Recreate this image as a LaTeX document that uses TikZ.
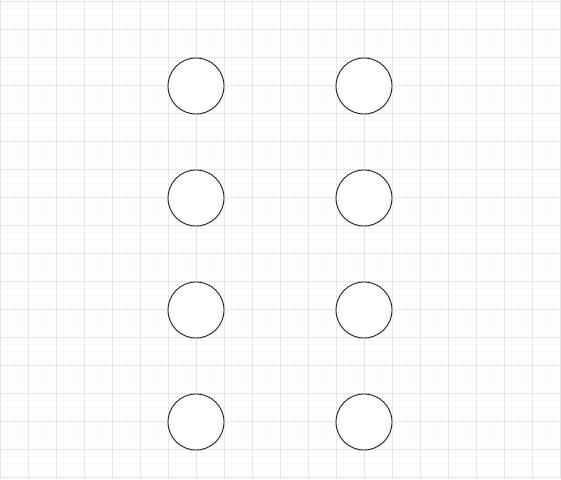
\documentclass[tikz,border=0pt]{standalone}
\usepackage{tikz}
\definecolor{ink}{HTML}{1A1A1A}
\definecolor{gridmaj}{HTML}{E6E6E6}
\definecolor{gridmin}{HTML}{F8F8F8}
\tikzset{
  pin/.style={circle,draw=ink,line width=0.9pt,fill=white,minimum size=56pt,inner sep=0pt},
}
\begin{document}
\begin{tikzpicture}[x=1pt,y=-1pt]
  \useasboundingbox (0,0) rectangle (561,479);
  \fill[white] (0,0) rectangle (561,479);
  \foreach \gx in {7,14,...,560} \draw[gridmin,line width=0.5pt] (\gx,0) -- (\gx,479);
  \foreach \gy in {8,15,...,479} \draw[gridmin,line width=0.5pt] (0,\gy) -- (561,\gy);
  \foreach \gx in {0,28,...,560} \draw[gridmaj,line width=0.8pt] (\gx,0) -- (\gx,479);
  \foreach \gy in {1,29,...,479} \draw[gridmaj,line width=0.8pt] (0,\gy) -- (561,\gy);
  % two columns of four
  \foreach \r/\py in {1/86,2/198,3/310,4/422} {
    \node[pin] (l\r) at (196,\py) {};
    \node[pin] (r\r) at (364,\py) {};
  }
\end{tikzpicture}
\end{document}
